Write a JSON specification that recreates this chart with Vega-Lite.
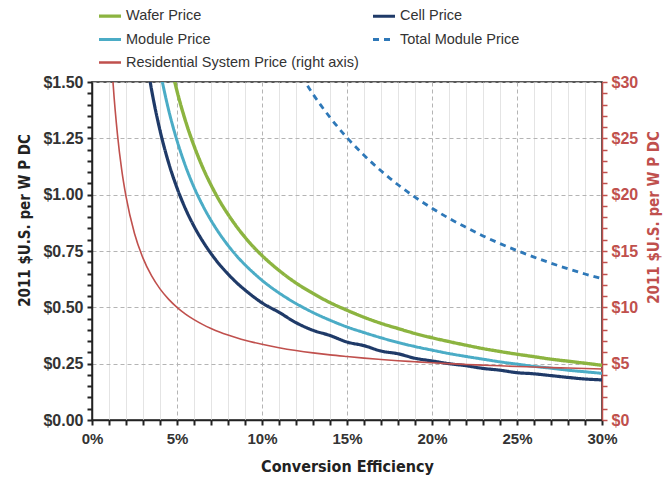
{
  "$schema": "https://vega.github.io/schema/vega-lite/v6.json",
  "autosize": {"type": "none"},
  "padding": {"left": 92, "top": 82, "right": 68, "bottom": 62},
  "width": 510,
  "height": 338,
  "background": "white",
  "config": {
    "font": "Liberation Sans, Arial, sans-serif",
    "view": {"stroke": "#222222", "strokeWidth": 1.5},
    "axis": {"labelOverlap": false, "labelFlush": false, "labelFontWeight": "bold"}
  },
  "datasets": {
    "left": [
      {"eff": 4.5, "series": "Wafer Price", "price": 1.622},
      {"eff": 5, "series": "Wafer Price", "price": 1.46},
      {"eff": 5.5, "series": "Wafer Price", "price": 1.327},
      {"eff": 6, "series": "Wafer Price", "price": 1.217},
      {"eff": 6.5, "series": "Wafer Price", "price": 1.123},
      {"eff": 7, "series": "Wafer Price", "price": 1.043},
      {"eff": 7.5, "series": "Wafer Price", "price": 0.973},
      {"eff": 8, "series": "Wafer Price", "price": 0.913},
      {"eff": 8.5, "series": "Wafer Price", "price": 0.859},
      {"eff": 9, "series": "Wafer Price", "price": 0.811},
      {"eff": 9.5, "series": "Wafer Price", "price": 0.768},
      {"eff": 10, "series": "Wafer Price", "price": 0.73},
      {"eff": 11, "series": "Wafer Price", "price": 0.664},
      {"eff": 12, "series": "Wafer Price", "price": 0.608},
      {"eff": 13, "series": "Wafer Price", "price": 0.562},
      {"eff": 14, "series": "Wafer Price", "price": 0.521},
      {"eff": 15, "series": "Wafer Price", "price": 0.487},
      {"eff": 16, "series": "Wafer Price", "price": 0.456},
      {"eff": 17, "series": "Wafer Price", "price": 0.429},
      {"eff": 18, "series": "Wafer Price", "price": 0.406},
      {"eff": 19, "series": "Wafer Price", "price": 0.384},
      {"eff": 20, "series": "Wafer Price", "price": 0.365},
      {"eff": 21, "series": "Wafer Price", "price": 0.348},
      {"eff": 22, "series": "Wafer Price", "price": 0.332},
      {"eff": 23, "series": "Wafer Price", "price": 0.317},
      {"eff": 24, "series": "Wafer Price", "price": 0.304},
      {"eff": 25, "series": "Wafer Price", "price": 0.292},
      {"eff": 26, "series": "Wafer Price", "price": 0.281},
      {"eff": 27, "series": "Wafer Price", "price": 0.27},
      {"eff": 28, "series": "Wafer Price", "price": 0.261},
      {"eff": 29, "series": "Wafer Price", "price": 0.252},
      {"eff": 30, "series": "Wafer Price", "price": 0.243},

      {"eff": 4, "series": "Module Price", "price": 1.55},
      {"eff": 4.5, "series": "Module Price", "price": 1.378},
      {"eff": 5, "series": "Module Price", "price": 1.24},
      {"eff": 5.5, "series": "Module Price", "price": 1.127},
      {"eff": 6, "series": "Module Price", "price": 1.033},
      {"eff": 6.5, "series": "Module Price", "price": 0.954},
      {"eff": 7, "series": "Module Price", "price": 0.886},
      {"eff": 7.5, "series": "Module Price", "price": 0.827},
      {"eff": 8, "series": "Module Price", "price": 0.775},
      {"eff": 8.5, "series": "Module Price", "price": 0.729},
      {"eff": 9, "series": "Module Price", "price": 0.689},
      {"eff": 9.5, "series": "Module Price", "price": 0.653},
      {"eff": 10, "series": "Module Price", "price": 0.62},
      {"eff": 11, "series": "Module Price", "price": 0.564},
      {"eff": 12, "series": "Module Price", "price": 0.517},
      {"eff": 13, "series": "Module Price", "price": 0.477},
      {"eff": 14, "series": "Module Price", "price": 0.443},
      {"eff": 15, "series": "Module Price", "price": 0.413},
      {"eff": 16, "series": "Module Price", "price": 0.388},
      {"eff": 17, "series": "Module Price", "price": 0.365},
      {"eff": 18, "series": "Module Price", "price": 0.344},
      {"eff": 19, "series": "Module Price", "price": 0.326},
      {"eff": 20, "series": "Module Price", "price": 0.31},
      {"eff": 21, "series": "Module Price", "price": 0.295},
      {"eff": 22, "series": "Module Price", "price": 0.282},
      {"eff": 23, "series": "Module Price", "price": 0.27},
      {"eff": 24, "series": "Module Price", "price": 0.258},
      {"eff": 25, "series": "Module Price", "price": 0.248},
      {"eff": 26, "series": "Module Price", "price": 0.238},
      {"eff": 27, "series": "Module Price", "price": 0.23},
      {"eff": 28, "series": "Module Price", "price": 0.221},
      {"eff": 29, "series": "Module Price", "price": 0.214},
      {"eff": 30, "series": "Module Price", "price": 0.207},

      {"eff": 3.25, "series": "Cell Price", "price": 1.579},
      {"eff": 3.5, "series": "Cell Price", "price": 1.467},
      {"eff": 4, "series": "Cell Price", "price": 1.285},
      {"eff": 4.5, "series": "Cell Price", "price": 1.143},
      {"eff": 5, "series": "Cell Price", "price": 1.03},
      {"eff": 5.5, "series": "Cell Price", "price": 0.937},
      {"eff": 6, "series": "Cell Price", "price": 0.86},
      {"eff": 6.5, "series": "Cell Price", "price": 0.795},
      {"eff": 7, "series": "Cell Price", "price": 0.739},
      {"eff": 7.5, "series": "Cell Price", "price": 0.69},
      {"eff": 8, "series": "Cell Price", "price": 0.648},
      {"eff": 8.5, "series": "Cell Price", "price": 0.61},
      {"eff": 9, "series": "Cell Price", "price": 0.577},
      {"eff": 9.5, "series": "Cell Price", "price": 0.547},
      {"eff": 10, "series": "Cell Price", "price": 0.52},
      {"eff": 11, "series": "Cell Price", "price": 0.478},
      {"eff": 12, "series": "Cell Price", "price": 0.432},
      {"eff": 13, "series": "Cell Price", "price": 0.398},
      {"eff": 14, "series": "Cell Price", "price": 0.375},
      {"eff": 15, "series": "Cell Price", "price": 0.346},
      {"eff": 16, "series": "Cell Price", "price": 0.33},
      {"eff": 17, "series": "Cell Price", "price": 0.306},
      {"eff": 18, "series": "Cell Price", "price": 0.294},
      {"eff": 19, "series": "Cell Price", "price": 0.274},
      {"eff": 20, "series": "Cell Price", "price": 0.262},
      {"eff": 21, "series": "Cell Price", "price": 0.25},
      {"eff": 22, "series": "Cell Price", "price": 0.241},
      {"eff": 23, "series": "Cell Price", "price": 0.229},
      {"eff": 24, "series": "Cell Price", "price": 0.221},
      {"eff": 25, "series": "Cell Price", "price": 0.21},
      {"eff": 26, "series": "Cell Price", "price": 0.205},
      {"eff": 27, "series": "Cell Price", "price": 0.197},
      {"eff": 28, "series": "Cell Price", "price": 0.189},
      {"eff": 29, "series": "Cell Price", "price": 0.182},
      {"eff": 30, "series": "Cell Price", "price": 0.178},

      {"eff": 12, "series": "Total Module Price", "price": 1.567},
      {"eff": 13, "series": "Total Module Price", "price": 1.446},
      {"eff": 14, "series": "Total Module Price", "price": 1.343},
      {"eff": 15, "series": "Total Module Price", "price": 1.253},
      {"eff": 16, "series": "Total Module Price", "price": 1.175},
      {"eff": 17, "series": "Total Module Price", "price": 1.106},
      {"eff": 18, "series": "Total Module Price", "price": 1.044},
      {"eff": 19, "series": "Total Module Price", "price": 0.989},
      {"eff": 20, "series": "Total Module Price", "price": 0.94},
      {"eff": 21, "series": "Total Module Price", "price": 0.895},
      {"eff": 22, "series": "Total Module Price", "price": 0.855},
      {"eff": 23, "series": "Total Module Price", "price": 0.817},
      {"eff": 24, "series": "Total Module Price", "price": 0.783},
      {"eff": 25, "series": "Total Module Price", "price": 0.752},
      {"eff": 26, "series": "Total Module Price", "price": 0.723},
      {"eff": 27, "series": "Total Module Price", "price": 0.696},
      {"eff": 28, "series": "Total Module Price", "price": 0.671},
      {"eff": 29, "series": "Total Module Price", "price": 0.648},
      {"eff": 30, "series": "Total Module Price", "price": 0.627}
    ],
    "resid": [
      {"eff": 1, "series": "Residential System Price (right axis)", "price": 36.24},
      {"eff": 1.25, "series": "Residential System Price (right axis)", "price": 29.68},
      {"eff": 1.5, "series": "Residential System Price (right axis)", "price": 25.31},
      {"eff": 1.75, "series": "Residential System Price (right axis)", "price": 22.18},
      {"eff": 2, "series": "Residential System Price (right axis)", "price": 19.84},
      {"eff": 2.5, "series": "Residential System Price (right axis)", "price": 16.56},
      {"eff": 3, "series": "Residential System Price (right axis)", "price": 14.37},
      {"eff": 3.5, "series": "Residential System Price (right axis)", "price": 12.81},
      {"eff": 4, "series": "Residential System Price (right axis)", "price": 11.64},
      {"eff": 4.5, "series": "Residential System Price (right axis)", "price": 10.73},
      {"eff": 5, "series": "Residential System Price (right axis)", "price": 10.0},
      {"eff": 5.5, "series": "Residential System Price (right axis)", "price": 9.4},
      {"eff": 6, "series": "Residential System Price (right axis)", "price": 8.91},
      {"eff": 6.5, "series": "Residential System Price (right axis)", "price": 8.49},
      {"eff": 7, "series": "Residential System Price (right axis)", "price": 8.13},
      {"eff": 7.5, "series": "Residential System Price (right axis)", "price": 7.81},
      {"eff": 8, "series": "Residential System Price (right axis)", "price": 7.54},
      {"eff": 8.5, "series": "Residential System Price (right axis)", "price": 7.3},
      {"eff": 9, "series": "Residential System Price (right axis)", "price": 7.08},
      {"eff": 9.5, "series": "Residential System Price (right axis)", "price": 6.89},
      {"eff": 10, "series": "Residential System Price (right axis)", "price": 6.72},
      {"eff": 11, "series": "Residential System Price (right axis)", "price": 6.42},
      {"eff": 12, "series": "Residential System Price (right axis)", "price": 6.17},
      {"eff": 13, "series": "Residential System Price (right axis)", "price": 5.96},
      {"eff": 14, "series": "Residential System Price (right axis)", "price": 5.78},
      {"eff": 15, "series": "Residential System Price (right axis)", "price": 5.63},
      {"eff": 16, "series": "Residential System Price (right axis)", "price": 5.49},
      {"eff": 17, "series": "Residential System Price (right axis)", "price": 5.37},
      {"eff": 18, "series": "Residential System Price (right axis)", "price": 5.26},
      {"eff": 19, "series": "Residential System Price (right axis)", "price": 5.17},
      {"eff": 20, "series": "Residential System Price (right axis)", "price": 5.08},
      {"eff": 21, "series": "Residential System Price (right axis)", "price": 5.0},
      {"eff": 22, "series": "Residential System Price (right axis)", "price": 4.93},
      {"eff": 23, "series": "Residential System Price (right axis)", "price": 4.87},
      {"eff": 24, "series": "Residential System Price (right axis)", "price": 4.81},
      {"eff": 25, "series": "Residential System Price (right axis)", "price": 4.75},
      {"eff": 26, "series": "Residential System Price (right axis)", "price": 4.7},
      {"eff": 27, "series": "Residential System Price (right axis)", "price": 4.65},
      {"eff": 28, "series": "Residential System Price (right axis)", "price": 4.61},
      {"eff": 29, "series": "Residential System Price (right axis)", "price": 4.57},
      {"eff": 30, "series": "Residential System Price (right axis)", "price": 4.53}
    ]
  },
  "resolve": {"scale": {"y": "independent"}},
  "encoding": {
    "x": {
      "field": "eff", "type": "quantitative",
      "scale": {"domain": [0, 30], "nice": false},
      "axis": {
        "title": "Conversion Efficiency",
        "values": [0,1,2,3,4,5,6,7,8,9,10,11,12,13,14,15,16,17,18,19,20,21,22,23,24,25,26,27,28,29,30],
        "labelExpr": "datum.value % 5 === 0 ? datum.value + '%' : ''",
        "grid": true,
        "gridColor": {"condition": {"test": "datum.value % 5 === 0", "value": "#b4b4b4"}, "value": "#e4e4e4"},
        "gridDash": {"condition": {"test": "datum.value % 5 === 0", "value": [4, 3]}, "value": []},
        "domainColor": "#222222", "domainWidth": 1.5,
        "tickColor": "#222222", "tickSize": 5, "tickWidth": 2,
        "labelFontSize": 15, "labelColor": "#333333", "labelPadding": 6,
        "titleFont": "DejaVu Sans Condensed, Liberation Sans, sans-serif",
        "titleFontSize": 16, "titleFontWeight": "bold", "titleColor": "#222222", "titlePadding": 12
      }
    },
    "color": {
      "field": "series", "type": "nominal",
      "scale": {
        "domain": ["Wafer Price", "Cell Price", "Module Price", "Total Module Price", "Residential System Price (right axis)"],
        "range": ["#8cb440", "#1f3a68", "#4bacc6", "#2e78b8", "#c0504d"]
      },
      "legend": {
        "title": null, "orient": "none", "legendX": 5, "legendY": -79,
        "direction": "horizontal",
        "columns": 2, "symbolType": "stroke", "symbolSize": 484, "symbolStrokeWidth": 2.5,
        "labelFontSize": 14.5, "labelColor": "#333333", "labelOffset": 3, "labelLimit": 400,
        "rowPadding": 4, "columnPadding": 7
      }
    }
  },
  "layer": [
    {
      "data": {"name": "left"},
      "mark": {"type": "line", "clip": true, "interpolate": "monotone"},
      "encoding": {
        "y": {
          "field": "price", "type": "quantitative",
          "scale": {"domain": [0, 1.5], "nice": false},
          "axis": {
            "title": "2011 $U.S. per W P DC",
            "values": [0,0.05,0.1,0.15,0.2,0.25,0.3,0.35,0.4,0.45,0.5,0.55,0.6,0.65,0.7,0.75,0.8,0.85,0.9,0.95,1,1.05,1.1,1.15,1.2,1.25,1.3,1.35,1.4,1.45,1.5],
            "labelExpr": "abs(datum.value*4 - round(datum.value*4)) < 0.001 ? '$' + format(datum.value, '.2f') : ''",
            "grid": true,
            "gridColor": "#b4b4b4",
            "gridDash": [4, 3],
            "gridOpacity": {"condition": {"test": "abs(datum.value*4 - round(datum.value*4)) < 0.001", "value": 1}, "value": 0},
            "domainColor": "#222222", "domainWidth": 1.5,
            "tickColor": "#222222", "tickSize": 5, "tickWidth": 2,
            "labelFontSize": 16, "labelColor": "#333333", "labelPadding": 4,
            "titleFont": "DejaVu Sans Condensed, Liberation Sans, sans-serif",
            "titleFontSize": 15, "titleFontWeight": "bold", "titleColor": "#222222",
            "titleX": -60, "titleY": 138
          }
        },
        "strokeDash": {
          "field": "series", "type": "nominal",
          "scale": {
            "domain": ["Wafer Price", "Cell Price", "Module Price", "Total Module Price", "Residential System Price (right axis)"],
            "range": [[1, 0], [1, 0], [1, 0], [6, 5], [1, 0]]
          }
        },
        "strokeWidth": {
          "field": "series", "type": "nominal",
          "scale": {
            "domain": ["Wafer Price", "Cell Price", "Module Price", "Total Module Price", "Residential System Price (right axis)"],
            "range": [3.4, 2.6, 1.6, 2.4, 1.6]
          },
          "legend": null
        }
      }
    },
    {
      "data": {"name": "resid"},
      "mark": {"type": "line", "clip": true, "interpolate": "monotone", "strokeWidth": 1.6},
      "encoding": {
        "y": {
          "field": "price", "type": "quantitative",
          "scale": {"domain": [0, 30], "nice": false},
          "axis": {
            "orient": "right",
            "title": "2011 $U.S. per W P DC",
            "values": [0,1,2,3,4,5,6,7,8,9,10,11,12,13,14,15,16,17,18,19,20,21,22,23,24,25,26,27,28,29,30],
            "labelExpr": "datum.value % 5 === 0 ? '$' + datum.value : ''",
            "grid": false,
            "domainColor": "#c0504d", "domainWidth": 1.5,
            "tickColor": "#c0504d", "tickSize": 5, "tickWidth": 1.5,
            "labelFontSize": 16, "labelColor": "#c0504d", "labelPadding": 4,
            "titleFont": "DejaVu Sans Condensed, Liberation Sans, sans-serif",
            "titleFontSize": 15, "titleFontWeight": "bold", "titleColor": "#c0504d",
            "titleAngle": 270, "titleBaseline": "top", "titleX": 44, "titleY": 135
          }
        }
      }
    }
  ]
}
